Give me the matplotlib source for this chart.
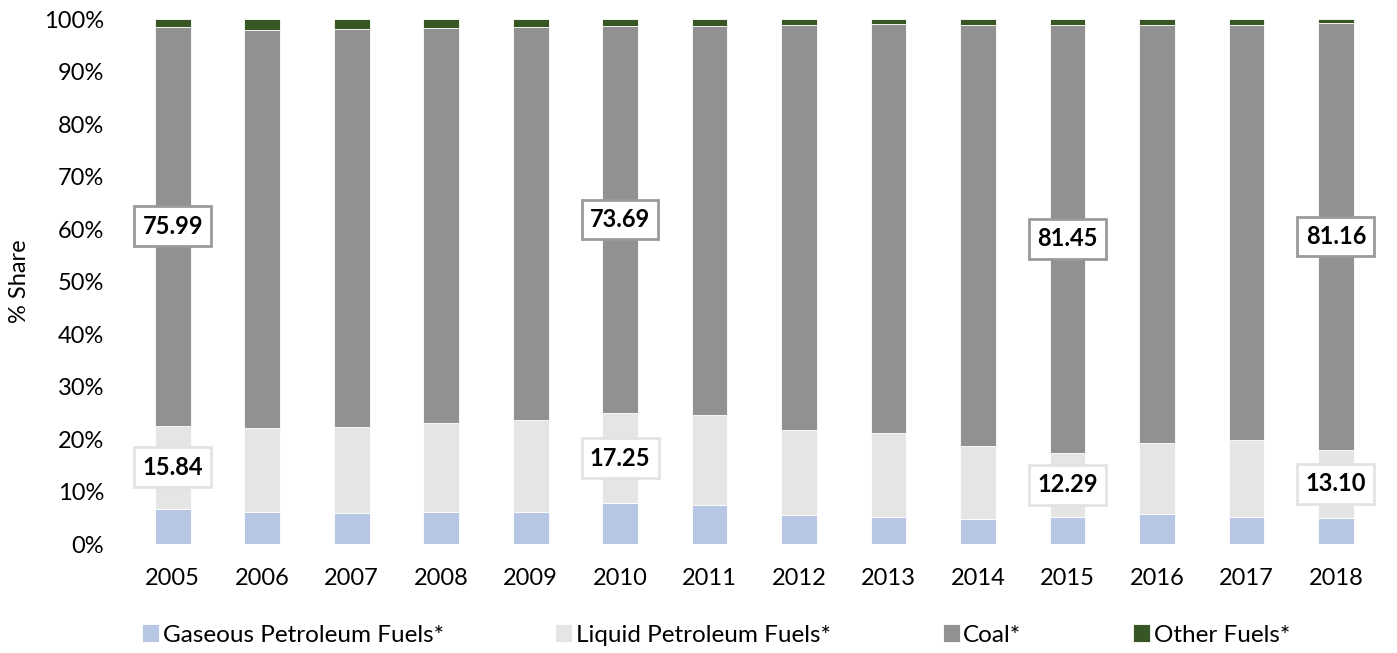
import numpy as np
import matplotlib
matplotlib.use("Agg")
import matplotlib.pyplot as plt

plt.rcParams['font.family'] = ['Lato', 'DejaVu Sans']

years = ["2005", "2006", "2007", "2008", "2009", "2010", "2011",
         "2012", "2013", "2014", "2015", "2016", "2017", "2018"]
gaseous = [6.7, 6.1, 5.9, 6.1, 6.1, 7.75, 7.4, 5.6, 5.2, 4.8, 5.1, 5.7, 5.2, 4.9]
liquid = [15.84, 16.0, 16.4, 16.9, 17.5, 17.25, 17.2, 16.2, 15.9, 13.9, 12.29, 13.5, 14.7, 13.10]
coal = [75.99, 75.9, 75.8, 75.2, 74.9, 73.69, 74.1, 77.1, 77.9, 80.1, 81.45, 79.7, 79.0, 81.16]
other = [100 - g - l - c for g, l, c in zip(gaseous, liquid, coal)]
labelled = [0, 5, 10, 13]  # bars carrying value boxes

names = ["Gaseous Petroleum Fuels*", "Liquid Petroleum Fuels*", "Coal*", "Other Fuels*"]
colors = ["#B8C6E6", "#E5E5E5", "#919191", "#375623"]

fig = plt.figure(figsize=(13.97, 6.53), dpi=100)
ax = fig.add_axes([0.0916, 0.1669, 0.8967, 0.804])

x = np.arange(len(years))
w = 0.4
bottom = np.zeros(len(years))
series = [gaseous, liquid, coal, other]
for vals, col, name in zip(series, colors, names):
    ax.bar(x, vals, w, bottom=bottom, color=col, edgecolor="white", linewidth=0.6, label=name)
    if name in ("Liquid Petroleum Fuels*", "Coal*"):
        edge = "#E3E3E3" if name.startswith("Liquid") else "#9A9A9A"
        for i in labelled:
            ax.text(x[i], bottom[i] + vals[i] / 2, f"{vals[i]:.2f}", ha="center", va="center",
                    fontsize=17, fontweight="bold", color="black",
                    bbox=dict(boxstyle="square,pad=0.35", fc="white", ec=edge, lw=2))
    bottom += np.array(vals)

ax.set_xlim(-0.5, len(years) - 0.5)
ax.set_ylim(0, 100)
ax.set_yticks(np.arange(0, 101, 10))
ax.set_yticklabels([f"{v}%" for v in range(0, 101, 10)])
ax.set_xticks(x)
ax.set_xticklabels(years)
ax.tick_params(length=0, labelsize=17, colors="black")
ax.tick_params(axis="x", pad=17)
ax.tick_params(axis="y", pad=17)
for s in ax.spines.values():
    s.set_visible(False)
ax.set_ylabel("% Share", fontsize=17, labelpad=10)

fig.legend(loc="center", bbox_to_anchor=(716 / 1397, 1 - 635 / 653), ncol=4, frameon=False,
           fontsize=17.5, handlelength=0.7, handleheight=0.7, handletextpad=0.15,
           columnspacing=4.6)

fig.savefig("out.png", dpi=100)
